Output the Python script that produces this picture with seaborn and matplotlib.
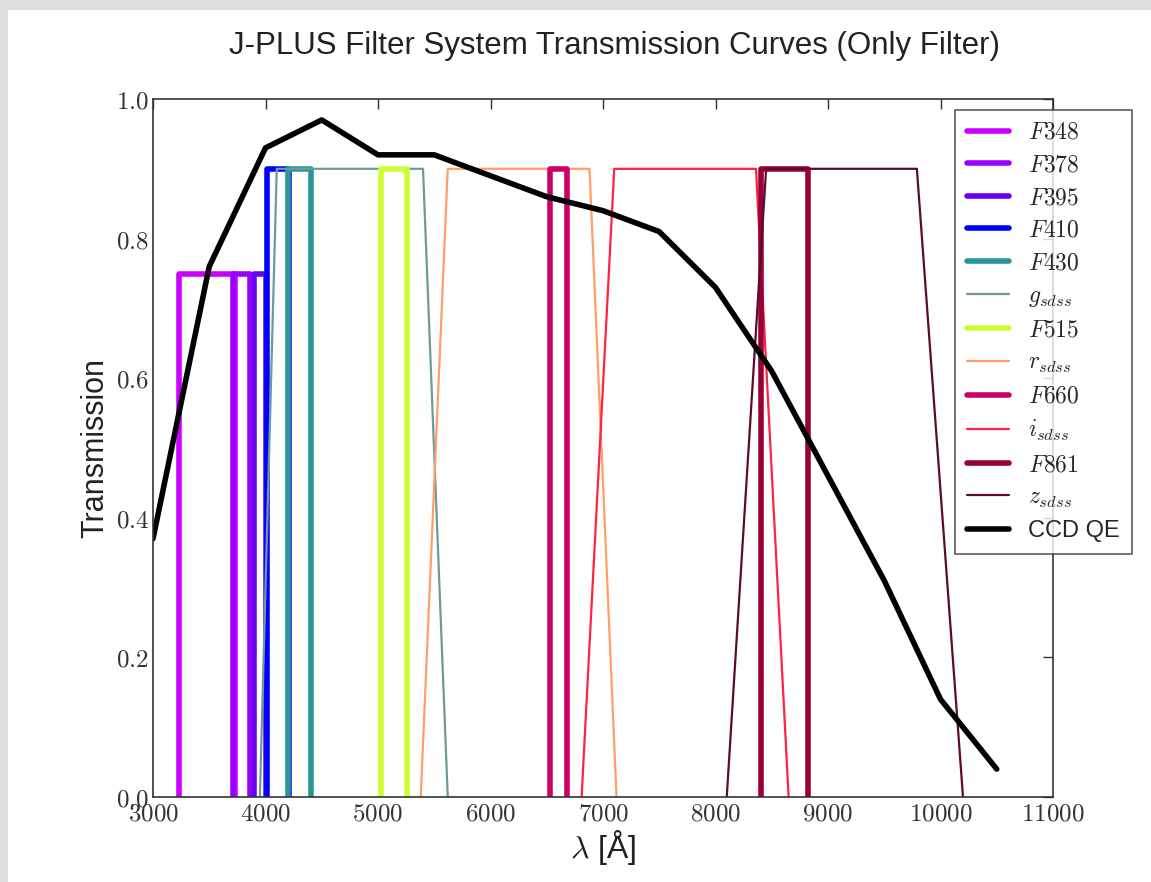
import matplotlib
matplotlib.use("Agg")
import matplotlib.pyplot as plt
import seaborn as sns
import pandas as pd
from matplotlib.patches import Rectangle

# filter edges (Angstrom) and transmission levels
filters = ["F348", "F378", "F395", "F410", "F430", "gsdss", "F515", "rsdss",
           "F660", "isdss", "F861", "zsdss"]
labels = ["$F348$", "$F378$", "$F395$", "$F410$", "$F430$", "$g_{sdss}$", "$F515$",
          "$r_{sdss}$", "$F660$", "$i_{sdss}$", "$F861$", "$z_{sdss}$"]
wave = {
    "F348": [3230, 3230, 3730, 3730],
    "F378": [3710, 3710, 3860, 3860],
    "F395": [3900, 3900, 4000, 4000],
    "F410": [4010, 4010, 4210, 4210],
    "F430": [4200, 4200, 4400, 4400],
    "gsdss": [3950, 4100, 5400, 5620],
    "F515": [5030, 5030, 5260, 5260],
    "rsdss": [5380, 5620, 6880, 7120],
    "F660": [6530, 6530, 6680, 6680],
    "isdss": [6810, 7100, 8360, 8650],
    "F861": [8400, 8400, 8820, 8820],
    "zsdss": [8100, 8450, 9790, 10200],
}
trans = {
    "F348": [0, 0.75, 0.75, 0], "F378": [0, 0.75, 0.75, 0], "F395": [0, 0.75, 0.75, 0],
    "F410": [0, 0.90, 0.90, 0], "F430": [0, 0.90, 0.90, 0], "gsdss": [0, 0.90, 0.90, 0],
    "F515": [0, 0.90, 0.90, 0], "rsdss": [0, 0.90, 0.90, 0], "F660": [0, 0.90, 0.90, 0],
    "isdss": [0, 0.90, 0.90, 0], "F861": [0, 0.90, 0.90, 0], "zsdss": [0, 0.90, 0.90, 0],
}
colors = ["#cc00ff", "#9900ff", "#6a00f0", "#0000ff", "#2a9696", "#6e9a9a",
          "#ccff33", "#ff9e66", "#cc0066", "#ff2244", "#990033", "#5a0a33"]
widths = [4, 4, 4, 4, 4, 1.6, 4, 1.6, 4, 1.6, 4, 1.6]

ccd_wave = [3000, 3500, 4000, 4500, 5000, 5500, 6000, 6500, 7000, 7500, 8000,
            8500, 9000, 9500, 10000, 10500]
ccd_qe = [0.37, 0.76, 0.93, 0.97, 0.92, 0.92, 0.89, 0.86, 0.84, 0.81, 0.73,
          0.61, 0.46, 0.31, 0.14, 0.04]

sns.set_style("white")
plt.rcParams["mathtext.fontset"] = "cm"
plt.rcParams["font.family"] = ["Liberation Sans", "DejaVu Sans"]

fig = plt.figure(figsize=(11.51, 8.82), dpi=100, facecolor="#dedede")
fig.patches.append(Rectangle((8 / 1151, 0), 1, 1 - 10 / 882, transform=fig.transFigure,
                             facecolor="white", edgecolor="none", zorder=-1))
ax = fig.add_axes([153 / 1151, 1 - 797 / 882, 900 / 1151, 698 / 882])

for f, lab, c, w in zip(filters, labels, colors, widths):
    df = pd.DataFrame({"wl": wave[f], "t": trans[f]})
    sns.lineplot(data=df, x="wl", y="t", sort=False, estimator=None, color=c, lw=w,
                 label=lab, ax=ax)
sns.lineplot(x=ccd_wave, y=ccd_qe, sort=False, estimator=None, color="black", lw=4,
             label="CCD QE", ax=ax)

ax.set_xlim(3000, 11000)
ax.set_ylim(0, 1.0)
ax.set_xticks(range(3000, 11001, 1000))
ax.set_yticks([0, 0.2, 0.4, 0.6, 0.8, 1.0])
ax.set_xticklabels([f"${v}$" for v in range(3000, 11001, 1000)])
ax.set_yticklabels([f"${v:.1f}$" for v in [0, 0.2, 0.4, 0.6, 0.8, 1.0]])
ax.tick_params(direction="in", top=True, right=True, length=7, width=1,
               labelsize=18, colors="#333333", pad=3)
for s in ax.spines.values():
    s.set_color("#333333")
    s.set_linewidth(1.2)

ax.set_xlabel("$\\lambda$ [Å]", fontsize=23, color="#222222", labelpad=2)
ax.set_ylabel("Transmission", fontsize=22, color="#222222", labelpad=4)
fig.text(614 / 1151, 1 - 46 / 882, "J-PLUS Filter System Transmission Curves (Only Filter)",
         ha="center", va="center", fontsize=22.5, color="#222222")

leg = ax.legend(loc="upper left", bbox_to_anchor=(955 / 1151, 1 - 110 / 882),
                bbox_transform=fig.transFigure, fontsize=17, frameon=True, fancybox=False,
                handlelength=1.8, handletextpad=0.8, labelspacing=0.45, borderpad=0.5,
                borderaxespad=0)
leg.get_frame().set_edgecolor("#333333")
leg.get_frame().set_linewidth(1.2)

fig.savefig("out.png", dpi=100, facecolor=fig.get_facecolor())
